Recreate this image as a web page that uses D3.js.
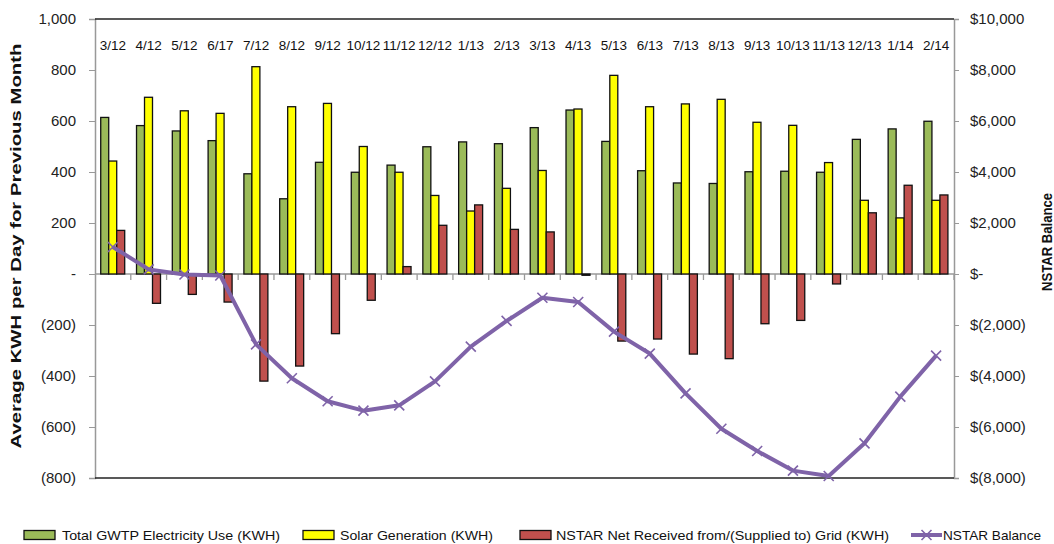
<!DOCTYPE html>
<html><head><meta charset="utf-8">
<script src="https://cdn.jsdelivr.net/npm/d3@7"></script>
<style>
body{margin:0;background:#fff}
svg{display:block;font-family:"Liberation Sans",Arial,sans-serif}
</style>
</head><body>
<svg id="c" width="1054" height="544"></svg>
<script>
const categories = ["3/12","4/12","5/12","6/17","7/12","8/12","9/12","10/12","11/12","12/12","1/13","2/13","3/13","4/13","5/13","6/13","7/13","8/13","9/13","10/13","11/13","12/13","1/14","2/14"];
const totalUse = [614,582,561,523,393,295,438,399,427,499,518,511,574,643,520,405,357,355,401,403,399,528,569,599];
const solarGen = [443,693,640,630,813,656,669,500,399,308,247,336,406,647,779,656,667,685,595,583,437,289,220,289];
const nstarNet = [171,-115,-80,-110,-420,-361,-234,-103,29,191,271,175,165,-5,-263,-255,-314,-332,-195,-182,-39,240,348,310];
const nstarBalance = [1060,180,-20,-60,-2760,-4090,-4990,-5360,-5150,-4210,-2850,-1840,-930,-1100,-2260,-3120,-4680,-6070,-6940,-7710,-7920,-6640,-4810,-3200];
const leftTicks = [1000,800,600,400,200,0,-200,-400,-600,-800];
const rightTicks = [10000,8000,6000,4000,2000,0,-2000,-4000,-6000,-8000];
const seriesNames = ["Total GWTP Electricity Use (KWH)","Solar Generation (KWH)","NSTAR Net Received from/(Supplied to) Grid (KWH)","NSTAR Balance"];
const seriesColors = ["#9BBB59","#FFFF00","#C0504D","#7F63A8"];

const svg = d3.select("#c");
const L = 95, R = 954, T = 19, B = 478;

const x = d3.scaleBand().domain(categories).range([L, R]).paddingInner(0).paddingOuter(0);
const bw = x.bandwidth();
const xs = d3.scaleBand().domain([0,1,2]).range([bw*0.16, bw*0.83]).padding(0);
const yL = d3.scaleLinear().domain([-800,1000]).range([B, T]);
const yR = d3.scaleLinear().domain([-8000,10000]).range([B, T]);

const fmt = d3.format(",");
const leftFmt = v => v === 0 ? "-" : v < 0 ? "(" + fmt(-v) + ")" : fmt(v);
const rightFmt = v => v === 0 ? "$-" : v < 0 ? "$(" + fmt(-v) + ")" : "$" + fmt(v);

// left axis
const gl = svg.append("g").attr("transform", `translate(${L},0)`)
  .call(d3.axisLeft(yL).tickValues(leftTicks).tickFormat(leftFmt).tickSize(6).tickPadding(13));
gl.select(".domain").attr("stroke", "#999").attr("stroke-width", 1.5);
gl.selectAll(".tick line").attr("stroke", "#999");
gl.selectAll(".tick text").attr("font-size", 15).attr("fill", "#222").attr("font-family", "Liberation Sans, Arial, sans-serif");

// right axis
const gr = svg.append("g").attr("transform", `translate(${R},0)`)
  .call(d3.axisRight(yR).tickValues(rightTicks).tickFormat(rightFmt).tickSize(5).tickPadding(11));
gr.select(".domain").attr("stroke", "#999").attr("stroke-width", 1.5);
gr.selectAll(".tick line").attr("stroke", "#999");
gr.selectAll(".tick text").attr("font-size", 15).attr("fill", "#222").attr("font-family", "Liberation Sans, Arial, sans-serif");

// top & bottom border
svg.append("line").attr("x1", L).attr("x2", R).attr("y1", T).attr("y2", T).attr("stroke", "#222").attr("stroke-width", 1.5);
svg.append("line").attr("x1", L).attr("x2", R).attr("y1", B).attr("y2", B).attr("stroke", "#222").attr("stroke-width", 1.5);

// zero (category) axis
const y0 = yL(0);
svg.append("line").attr("x1", L).attr("x2", R).attr("y1", y0).attr("y2", y0).attr("stroke", "#999").attr("stroke-width", 1.3);
svg.append("g").selectAll("line").data(categories.slice(1).concat(["__end"])).join("line")
  .attr("x1", d => d === "__end" ? R : x(d)).attr("x2", d => d === "__end" ? R : x(d))
  .attr("y1", y0).attr("y2", y0 + 6).attr("stroke", "#999").attr("stroke-width", 1.3);

// category labels
svg.append("g").selectAll("text").data(categories).join("text")
  .attr("x", d => x(d) + bw/2).attr("y", 50).attr("text-anchor", "middle")
  .attr("font-size", 13.5).attr("fill", "#111").text(d => d);

// bars
const barSeries = [totalUse, solarGen, nstarNet];
barSeries.forEach((vals, si) => {
  svg.append("g").selectAll("rect").data(vals).join("rect")
    .attr("x", (v, i) => x(categories[i]) + xs(si))
    .attr("width", xs.bandwidth())
    .attr("y", v => Math.min(yL(v), y0))
    .attr("height", v => Math.abs(yL(v) - y0))
    .attr("fill", seriesColors[si]).attr("stroke", "#111").attr("stroke-width", 1.3);
});

// balance line
const line = d3.line().x((v, i) => x(categories[i]) + bw/2).y(v => yR(v));
svg.append("path").datum(nstarBalance).attr("d", line)
  .attr("fill", "none").attr("stroke", seriesColors[3]).attr("stroke-width", 4).attr("stroke-linejoin", "round");
svg.append("g").selectAll("path").data(nstarBalance).join("path")
  .attr("transform", (v, i) => `translate(${x(categories[i]) + bw/2},${yR(v)})`)
  .attr("d", "M-5,-5L5,5M-5,5L5,-5")
  .attr("stroke", seriesColors[3]).attr("stroke-width", 1.6);

// axis titles
svg.append("text").attr("transform", `translate(21,246) rotate(-90)`).attr("text-anchor", "middle")
  .attr("font-size", 14.5).attr("font-weight", "bold").attr("fill", "#111")
  .attr("textLength", 405).attr("lengthAdjust", "spacingAndGlyphs")
  .text("Average KWH per Day for Previous Month");
svg.append("text").attr("transform", `translate(1052,242) rotate(-90)`).attr("text-anchor", "middle")
  .attr("font-size", 15).attr("font-weight", "bold").attr("fill", "#111")
  .attr("textLength", 98).attr("lengthAdjust", "spacingAndGlyphs")
  .text("NSTAR Balance");

// legend
const legendItems = [
  {sx: 24, tx: 62, tl: 218},
  {sx: 303, tx: 340, tl: 153},
  {sx: 520, tx: 556, tl: 333},
  {sx: 911, tx: 943, tl: 98}
];
const ly = 535;
const lg = svg.append("g");
legendItems.forEach((it, i) => {
  if (i < 3) {
    lg.append("rect").attr("x", it.sx).attr("y", ly - 4.5).attr("width", 31).attr("height", 9)
      .attr("fill", seriesColors[i]).attr("stroke", "#111").attr("stroke-width", 1.3);
  } else {
    lg.append("line").attr("x1", it.sx).attr("x2", it.sx + 31).attr("y1", ly).attr("y2", ly)
      .attr("stroke", seriesColors[3]).attr("stroke-width", 4);
    lg.append("path").attr("transform", `translate(${it.sx + 15.5},${ly})`)
      .attr("d", "M-5,-5L5,5M-5,5L5,-5").attr("stroke", seriesColors[3]).attr("stroke-width", 1.6);
  }
  lg.append("text").attr("x", it.tx).attr("y", ly + 5).attr("font-size", 13.5).attr("fill", "#111")
    .attr("textLength", it.tl).attr("lengthAdjust", "spacingAndGlyphs").text(seriesNames[i]);
});
</script>
</body></html>
